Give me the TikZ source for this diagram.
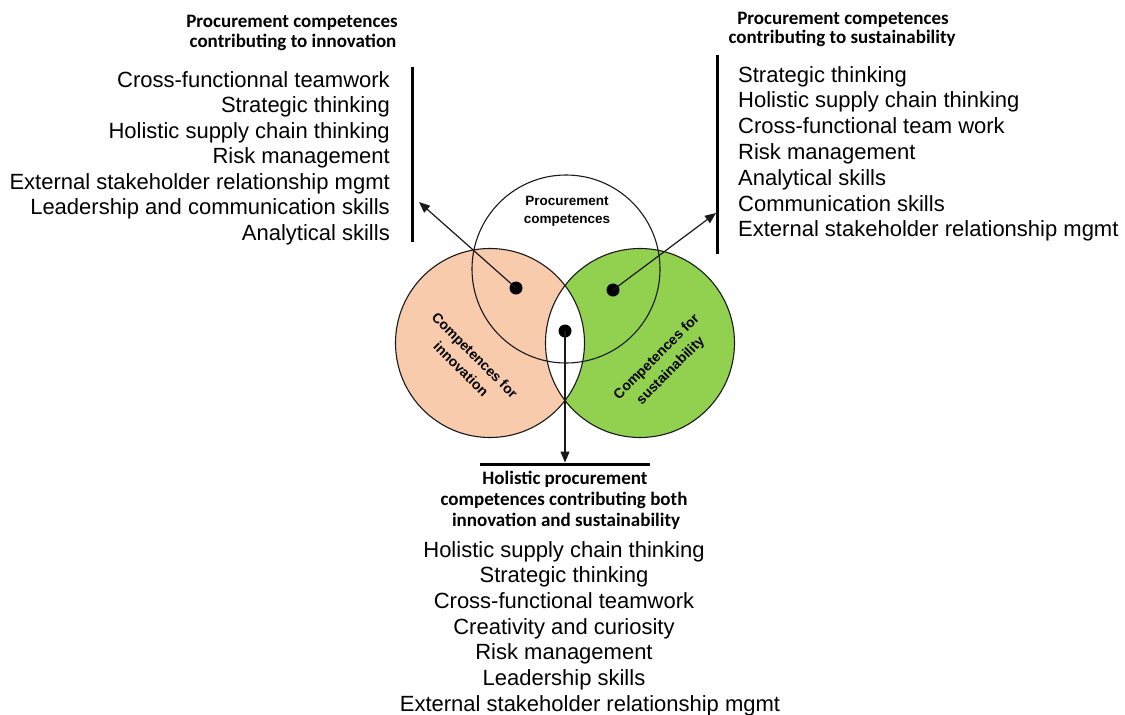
\documentclass[tikz,border=0pt]{standalone}
\usepackage{fontspec}
\setmainfont{Liberation Sans}
\newfontfamily\hdrfont{Carlito}
\usetikzlibrary{arrows.meta}
\definecolor{peach}{HTML}{F8CBAD}
\definecolor{leaf}{HTML}{92D050}
\begin{document}
\begin{tikzpicture}[x=1pt,y=-1pt,
  item/.style={font=\fontsize{22}{26}\selectfont, inner sep=0pt},
  head/.style={font=\hdrfont\bfseries\fontsize{19}{20}\selectfont, inner sep=0pt, anchor=base},
  venn/.style={font=\bfseries\fontsize{13.5}{18}\selectfont, align=center, inner sep=0pt, text=black},
  rvenn/.style={venn, font=\bfseries\fontsize{14}{19.5}\selectfont},
  ring/.style={draw=black!90, line width=1.1pt},
  dot/.style={circle, fill=black, minimum size=13pt, inner sep=0pt},
  arr/.style={draw=black!90, line width=1.2pt, -{Triangle[length=11pt,width=9pt]}},
  bar/.style={line width=3pt, draw=black},
]
\useasboundingbox (0,0) rectangle (1125,715);
% circles
\coordinate (cP) at (566,269);
\coordinate (cI) at (490,343);
\coordinate (cS) at (640,343);
\fill[peach] (cI) circle[radius=94.5pt];
\fill[leaf] (cS) circle[radius=94.5pt];
\begin{scope}
  \clip (cI) circle[radius=94.5pt];
  \fill[white] (cS) circle[radius=94.5pt];
\end{scope}
\draw[ring] (cI) circle[radius=94.5pt];
\draw[ring] (cS) circle[radius=94.5pt];
\draw[ring] (cP) circle[radius=94pt];
% labels inside
\node[venn] (lP) at (567,211) {Procurement\\competences};
\node[rvenn, rotate=-45] (lI) at (468,362) {Competences for\\innovation};
\node[rvenn, rotate=45] (lS) at (664,364) {Competences for\\sustainability};
% dots
\node[dot] (dI) at (516,288) {};
\node[dot] (dS) at (613,290) {};
\node[dot] (dB) at (565,331) {};
% bars
\coordinate (bL1) at (412,67);  \coordinate (bL2) at (412,242);
\coordinate (bR1) at (717,55);  \coordinate (bR2) at (717,254);
\coordinate (bB1) at (480,464); \coordinate (bB2) at (650,464);
\draw[bar] (bL1) -- (bL2);
\draw[bar] (bR1) -- (bR2);
\draw[bar] (bB1) -- (bB2);
% arrows
\coordinate (tI) at (419,202);
\coordinate (tS) at (716,213);
\coordinate (tB) at (565,462.5);
\draw[arr] (dI.center) -- (tI);
\draw[arr] (dS.center) -- (tS);
\draw[arr] (dB.center) -- (tB);
% headers
\node[head] (hL1) at (292,27) {Procurement competences};
\node[head] (hL2) at (293,47) {contributing to innovation};
\node[head] (hR1) at (843,24) {Procurement competences};
\node[head] (hR2) at (842,43) {contributing to sustainability};
\node[head] (hB1) at (565,484) {Holistic procurement};
\node[head] (hB2) at (564,505) {competences contributing both};
\node[head] (hB3) at (566,526) {innovation and sustainability};
% left list
\foreach \t [count=\i] in {Cross-functionnal teamwork, Strategic thinking, Holistic supply chain thinking, Risk management, External stakeholder relationship mgmt, Leadership and communication skills, Analytical skills}
  \node[item, anchor=base east] (L\i) at (390,{87+25.5*(\i-1)}) {\t};
% right list
\foreach \t [count=\i] in {Strategic thinking, Holistic supply chain thinking, Cross-functional team work, Risk management, Analytical skills, Communication skills, External stakeholder relationship mgmt}
  \node[item, anchor=base west] (R\i) at (738,{82+25.8*(\i-1)}) {\t};
% bottom list
\foreach \t [count=\i] in {Holistic supply chain thinking, Strategic thinking, Cross-functional teamwork, Creativity and curiosity, Risk management, Leadership skills}
  \node[item, anchor=base] (B\i) at (564,{557+25.7*(\i-1)}) {\t};
\node[item, anchor=base] (B7) at (590,711) {External stakeholder relationship mgmt};
\end{tikzpicture}
\end{document}
